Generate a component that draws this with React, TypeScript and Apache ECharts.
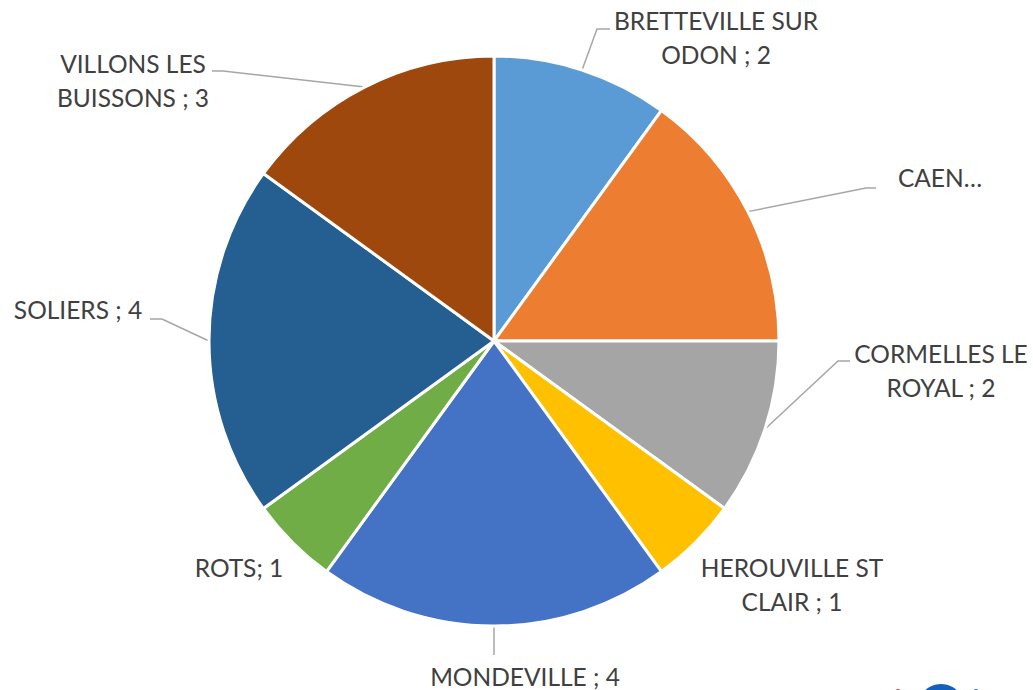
import React, { useEffect, useRef } from "react";
import * as echarts from "echarts";

const categories = [
  "BRETTEVILLE SUR ODON",
  "CAEN",
  "CORMELLES LE ROYAL",
  "HEROUVILLE ST CLAIR",
  "MONDEVILLE",
  "ROTS",
  "SOLIERS",
  "VILLONS LES BUISSONS",
];
const values = [2, 3, 2, 1, 4, 1, 4, 3];
const labelTexts = [
  "BRETTEVILLE SUR\nODON ; 2",
  "CAEN…",
  "CORMELLES LE\nROYAL ; 2",
  "HEROUVILLE ST\nCLAIR ; 1",
  "MONDEVILLE ; 4",
  "ROTS; 1",
  "SOLIERS ; 4",
  "VILLONS LES\nBUISSONS ; 3",
];
const colors = [
  "#5B9BD5",
  "#ED7D31",
  "#A5A5A5",
  "#FFC000",
  "#4472C4",
  "#70AD47",
  "#255E91",
  "#9E480E",
];

// label placement (layout only)
const labelLayouts: { x: number; y: number; line: number[][] | null }[] = [
  { x: 716, y: 37, line: [[597, 29], [610, 29]] },
  { x: 940, y: 177, line: [[866, 188], [876, 188]] },
  { x: 941, y: 370, line: [[838, 361], [850, 361]] },
  { x: 792, y: 584, line: null },
  { x: 525, y: 676, line: [[494, 655]] },
  { x: 239, y: 567, line: null },
  { x: 78, y: 309, line: [[162, 319], [150, 319]] },
  { x: 133, y: 80, line: [[223, 71], [212, 71]] },
];

export default function App() {
  const ref = useRef<HTMLDivElement>(null);
  useEffect(() => {
    document.body.style.margin = "0";
    const chart = echarts.init(ref.current!, null, { renderer: "svg" });
    chart.setOption({
      animation: false,
      backgroundColor: "#ffffff",
      graphic: [
        {
          type: "circle",
          shape: { cx: 941, cy: 707, r: 23 },
          style: { fill: "#1560BD" },
          z: 10,
        },
        {
          type: "circle",
          shape: { cx: 898, cy: 692, r: 3 },
          style: { fill: "#E03030" },
          z: 10,
        },
        {
          type: "circle",
          shape: { cx: 976, cy: 692, r: 3 },
          style: { fill: "#1560BD" },
          z: 10,
        },
      ],
      series: [
        {
          type: "pie",
          center: [494, 341],
          radius: 285,
          startAngle: 90,
          clockwise: true,
          itemStyle: { borderColor: "#ffffff", borderWidth: 3 },
          label: {
            show: true,
            color: "#404040",
            fontFamily: "Lato",
            fontSize: 24.5,
            lineHeight: 34,
            align: "center",
            formatter: (p: any) => labelTexts[p.dataIndex],
          },
          labelLine: {
            show: true,
            lineStyle: { color: "#A6A6A6", width: 1.5 },
          },
          labelLayout: (params: any) => {
            const L = labelLayouts[params.dataIndex];
            const p0 = params.labelLinePoints ? params.labelLinePoints[0] : null;
            const res: any = {
              x: L.x,
              y: L.y,
              align: "center",
              verticalAlign: "middle",
            };
            if (L.line && p0) res.labelLinePoints = [p0, ...L.line];
            return res;
          },
          data: categories.map((name, i) => ({
            name,
            value: values[i],
            itemStyle: { color: colors[i] },
            labelLine: { show: labelLayouts[i].line !== null },
          })),
        },
      ],
    });
    return () => chart.dispose();
  }, []);
  return (
    <div
      ref={ref}
      style={{ position: "absolute", left: 0, top: 0, width: 1033, height: 690 }}
    />
  );
}
